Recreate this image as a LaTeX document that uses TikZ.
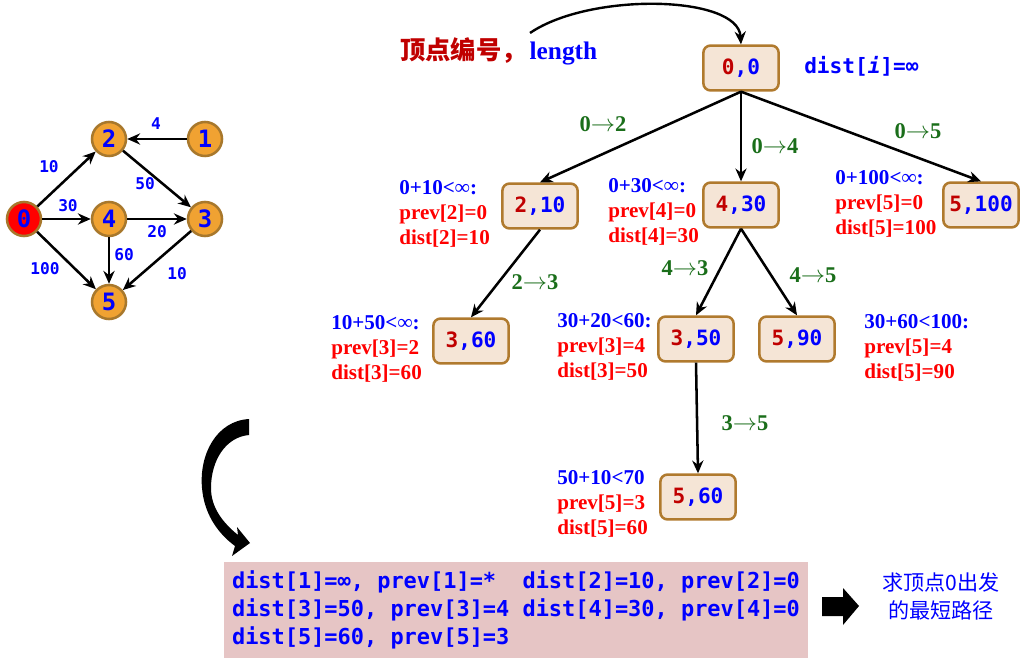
\documentclass[tikz,border=0pt]{standalone}
\usepackage{fontspec}
\setmainfont{Liberation Serif}
\setmonofont{DejaVu Sans Mono}
\newfontfamily\cjkfont{Noto Sans CJK SC}
\usetikzlibrary{arrows.meta}
\definecolor{VtxOrange}{HTML}{F0A232}
\definecolor{VtxBorder}{HTML}{A8782C}
\definecolor{VtxRed}{HTML}{FF0000}
\definecolor{BoxFill}{HTML}{F5E5D6}
\definecolor{BoxBorder}{HTML}{B07A2E}
\definecolor{BoxRed}{HTML}{C00000}
\definecolor{TextBlue}{HTML}{0000FF}
\definecolor{TextRed}{HTML}{FF0000}
\definecolor{StepGreen}{HTML}{1A6E1A}
\definecolor{ResPink}{HTML}{E6C5C5}
\newcommand\boxlabel[2]{\textcolor{BoxRed}{#1}\textcolor{TextBlue}{,#2}}
\newcommand\stepto[2]{#1$\rightarrow$#2}

\begin{document}
\begin{tikzpicture}[
  x=0.025cm,y=-0.025cm,>=Stealth,
  flow/.style={-{Stealth[length=3.2mm,width=2.8mm]},draw=black,line width=1.8pt},
  gnode/.style={circle,draw=VtxBorder,fill=VtxOrange,line width=1.8pt,
    minimum size=0.85cm,inner sep=0pt,text=TextBlue,
    font=\ttfamily\bfseries\fontsize{17}{17}\selectfont},
  wlabel/.style={text=TextBlue,inner sep=1pt,
    font=\ttfamily\bfseries\fontsize{11.5}{12}\selectfont},
  treebox/.style={draw=BoxBorder,fill=BoxFill,rounded corners=5pt,
    line width=1.8pt,minimum width=1.88cm,minimum height=1.12cm,
    font=\ttfamily\bfseries\fontsize{15}{15}\selectfont},
  steplabel/.style={text=StepGreen,inner sep=1pt,
    font=\bfseries\fontsize{16}{16}\selectfont},
  note/.style={anchor=north west,inner sep=0pt,align=left,text=TextRed,
    font=\bfseries\fontsize{15}{17.8}\selectfont},
  resultbox/.style={fill=ResPink,minimum width=14.6cm,minimum height=2.4cm,
    inner sep=0pt,align=left,text=TextBlue,
    font=\ttfamily\bfseries\fontsize{15.6}{20}\selectfont}
]
\useasboundingbox (0,0) rectangle (1029,669);

% graph of the example
\node[gnode,fill=VtxRed] (v0) at (24,219) {0};
\node[gnode] (v2) at (109,139) {2};
\node[gnode] (v1) at (205,139) {1};
\node[gnode] (v4) at (109,219) {4};
\node[gnode] (v3) at (205,219) {3};
\node[gnode] (v5) at (109,302) {5};

\draw[flow] (v1) -- (v2);
\draw[flow] (v0) -- (v2);
\draw[flow] (v0) -- (v4);
\draw[flow] (v0) -- (v5);
\draw[flow] (v2) -- (v3);
\draw[flow] (v4) -- (v3);
\draw[flow] (v4) -- (v5);
\draw[flow] (v3) -- (v5);

\node[wlabel] (w12) at (156,124) {4};
\node[wlabel] (w02) at (49,167) {10};
\node[wlabel] (w23) at (145,184) {50};
\node[wlabel] (w04) at (68,206) {30};
\node[wlabel] (w43) at (157,232) {20};
\node[wlabel] (w45) at (124,255) {60};
\node[wlabel] (w05) at (45,269) {100};
\node[wlabel] (w35) at (177,274) {10};

% search tree
\node[anchor=west,inner sep=0pt,font=\bfseries\fontsize{18}{18}\selectfont] (legend) at (400,51)
  {\textcolor{BoxRed}{\cjkfont\bfseries 顶点编号，}\hspace{2pt}\textcolor{TextBlue}{length}};
\node[anchor=west,inner sep=0pt,text=TextBlue,
  font=\ttfamily\bfseries\fontsize{15}{15}\selectfont] (distinit) at (804,66) {dist[\textit{i}]=∞};

\node[treebox] (t00) at (741,68) {\boxlabel{0}{0}};
\node[treebox] (t210) at (540,206) {\boxlabel{2}{10}};
\node[treebox] (t430) at (741,205) {\boxlabel{4}{30}};
\node[treebox] (t5100) at (981,205) {\boxlabel{5}{100}};
\node[treebox] (t360) at (471,341) {\boxlabel{3}{60}};
\node[treebox] (t350) at (696,339) {\boxlabel{3}{50}};
\node[treebox] (t590) at (797,339) {\boxlabel{5}{90}};
\node[treebox] (t560) at (698,497) {\boxlabel{5}{60}};

\coordinate (cstart) at (530,33);
\draw[flow,line width=1.7pt] (cstart) .. controls (590,-8) and (738,-5) .. (t00.north);

\draw[flow] (t00.south) -- (t210.north);
\draw[flow] (t00.south) -- (t430.north);
\draw[flow] (t00.south) -- (t5100.north);
\draw[flow] (t210.south) -- (t360.north);
\draw[flow] (t430.south) -- (t350.north);
\draw[flow] (t430.south) -- (t590.north);
\draw[flow] (t350.south) -- (t560.north);

\node[steplabel] (s02) at (603,124) {\stepto{0}{2}};
\node[steplabel] (s04) at (775,146) {\stepto{0}{4}};
\node[steplabel] (s05) at (918,131) {\stepto{0}{5}};
\node[steplabel] (s23) at (535,282) {\stepto{2}{3}};
\node[steplabel] (s43) at (685,268) {\stepto{4}{3}};
\node[steplabel] (s45) at (813,275) {\stepto{4}{5}};
\node[steplabel] (s35) at (745,423) {\stepto{3}{5}};

\node[note] (n210) at (399,180) {\textcolor{TextBlue}{0+10<∞:}\\prev[2]=0\\dist[2]=10};
\node[note] (n430) at (608,178) {\textcolor{TextBlue}{0+30<∞:}\\prev[4]=0\\dist[4]=30};
\node[note] (n5100) at (835,170) {\textcolor{TextBlue}{0+100<∞:}\\prev[5]=0\\dist[5]=100};
\node[note] (n360) at (331,315) {\textcolor{TextBlue}{10+50<∞:}\\prev[3]=2\\dist[3]=60};
\node[note] (n350) at (557,313) {\textcolor{TextBlue}{30+20<60:}\\prev[3]=4\\dist[3]=50};
\node[note] (n590) at (864,314) {\textcolor{TextBlue}{30+60<100:}\\prev[5]=4\\dist[5]=90};
\node[note] (n560) at (557,470) {\textcolor{TextBlue}{50+10<70}\\prev[5]=3\\dist[5]=60};

% result
\fill (249,419) .. controls (216,421) and (199,455) .. (202,488)
  .. controls (204,512) and (216,532) .. (235,546) -- (232,556) -- (250,543)
  -- (237,527) -- (238,535) .. controls (222,522) and (211,507) .. (211,488)
  .. controls (211,460) and (226,437) .. (249,435) -- cycle;

\node[resultbox] (res) at (516,610)
  {dist[1]=∞, prev[1]=*\ \ dist[2]=10, prev[2]=0\\
   dist[3]=50, prev[3]=4 dist[4]=30, prev[4]=0\\
   dist[5]=60, prev[5]=3};

\fill (822,597) -- (843,597) -- (843,588) -- (859,606) -- (843,625)
  -- (843,616) -- (822,616) -- cycle;

\node[text=TextBlue,align=center,font=\cjkfont\fontsize{15}{20}\selectfont] (goal) at (941,596)
  {求顶点0出发\\的最短路径};

\end{tikzpicture}
\end{document}
